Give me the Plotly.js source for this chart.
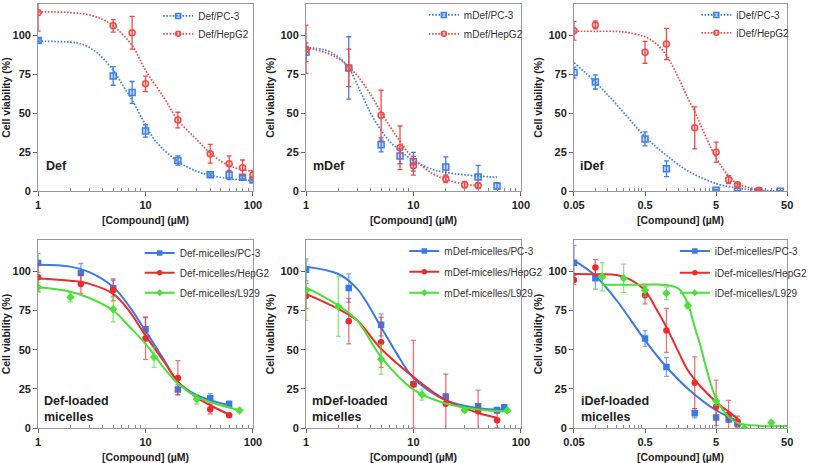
<!DOCTYPE html>
<html><head><meta charset="utf-8">
<script src="https://cdn.plot.ly/plotly-3.0.1.min.js"></script>
<style>html,body{margin:0;padding:0;background:#fff}#chart{width:813px;height:463px}</style>
</head><body><div id="chart"></div>
<script>
// ---------- Panel 1: Def ----------
const def_x = [1, 5, 7.5, 10, 20, 40, 60, 80, 100];
const def_pc3 = [96.6, 73.9, 63.3, 38.6, 19.7, 10.6, 10.4, 8.9, 7.2];
const def_pc3_err = [1, 6, 7, 4, 3, 1, 3, 1, 1.5];
const def_hep = [114.6, 106, 101.5, 68.8, 45.6, 24, 17.6, 15, 10.4];
const def_hep_err = [12, 4, 10.5, 5, 5, 6, 5, 5, 3];
const def_pc3_fit_x = [1, 2, 2.5, 3.5, 5, 6.25, 7.5, 10, 12.5, 20, 30, 40, 60, 100];
const def_pc3_fit_y = [96.2, 95.5, 94.5, 89, 77.5, 67, 58.4, 42.5, 31.8, 19.1, 12.7, 10.2, 8, 6.8];
const def_hep_fit_x = [1, 2, 3, 4, 5, 7.5, 10, 15, 20, 30, 40, 60, 100];
const def_hep_fit_y = [115, 114.5, 113, 110, 106, 93.4, 77.5, 59.4, 45.6, 33, 24.4, 16.3, 12.7];

// ---------- Panel 2: mDef ----------
const mdef_pc3_x = [1, 2.5, 5, 7.5, 10, 20, 40, 60];
const mdef_pc3 = [89, 79, 29.7, 22.6, 18.9, 15.5, 9.1, 3.4];
const mdef_pc3_err = [6, 20, 4.5, 5, 6, 6.5, 7.5, 2];
const mdef_hep_x = [1, 2.5, 5, 7.5, 10, 20, 30, 40];
const mdef_hep = [91, 79, 48.7, 27.8, 16.3, 8, 4.2, 3.6];
const mdef_hep_err = [15.5, 12, 16, 14, 6, 2.5, 2, 1.5];
const mdef_pc3_fit_x = [1, 1.5, 2, 2.5, 3.25, 4, 5, 6, 7.5, 10, 15, 20, 40, 60];
const mdef_pc3_fit_y = [92, 90.5, 86, 79, 63, 50, 39, 32, 26, 19.7, 14, 12, 9.7, 9];
const mdef_hep_fit_x = [1, 1.5, 2, 2.5, 3, 4, 5, 7.5, 10, 15, 20, 30, 40];
const mdef_hep_fit_y = [92, 89, 85, 79.5, 74, 62, 50.5, 32, 21, 11.5, 7.5, 4.5, 3.5];

// ---------- Panel 3: iDef ----------
const idef_pc3_x = [0.05, 0.1, 0.5, 1, 5, 10, 20, 40];
const idef_pc3 = [76, 70, 33.5, 14.4, 0.6, 0, 0, 0];
const idef_pc3_err = [3.5, 4.5, 4.5, 5, 0.5, 0.3, 0.3, 0.3];
const idef_hep_x = [0.05, 0.1, 0.5, 1, 2.5, 5, 7.5, 10, 20];
const idef_hep = [102.8, 106.6, 89, 94.3, 40.6, 25, 7.4, 4.2, 0.6];
const idef_hep_err = [6, 2.5, 7, 10, 13.5, 6.5, 2.5, 1, 0.5];
const idef_pc3_fit_x = [0.05, 0.1, 0.2, 0.5, 1, 2, 5, 10, 20, 40];
const idef_pc3_fit_y = [82.4, 70, 55.4, 35, 23, 13, 4.9, 2, 0.6, 0.2];
const idef_hep_fit_x = [0.05, 0.1, 0.2, 0.3, 0.5, 0.7, 1, 1.5, 2, 2.5, 3, 5, 7.5, 10, 20];
const idef_hep_fit_y = [102.5, 102.5, 102.4, 101.5, 99, 95, 87, 72, 59.7, 51, 42.7, 21.4, 9.8, 4.9, 0.8];

// ---------- Panel 4: Def-loaded micelles ----------
const defm_x = [1, 2.5, 5, 10, 20, 40, 60];
const defm_pc3 = [105.3, 99, 89.2, 63, 24.6, 19, 15.3];
const defm_pc3_err = [6, 6, 5, 7.5, 3, 3, 2];
const defm_hep = [96.2, 92, 88.1, 57.4, 32, 12.1, 8.3];
const defm_hep_err = [9, 6, 7, 13.5, 11, 3, 1];
const defm_l929_x = [1, 2, 5, 12, 30, 75];
const defm_l929 = [89.8, 83.5, 75.8, 45.3, 18.4, 11.2];
const defm_l929_err = [3, 3, 8, 6.5, 3, 1];
const defm_pc3_fit_x = [1, 2, 3, 5, 7, 10, 15, 20, 30, 40, 60];
const defm_pc3_fit_y = [104.2, 103, 99.5, 90, 78, 62, 43, 29.5, 21, 17.8, 14.6];
const defm_hep_fit_x = [1, 2, 3, 5, 7, 10, 15, 20, 30, 40, 60];
const defm_hep_fit_y = [95.5, 94, 92, 85.6, 75, 59, 42, 29.5, 19.5, 14.6, 8.7];
const defm_l929_fit_x = [1, 2, 3, 5, 7, 10, 15, 20, 30, 40, 75];
const defm_l929_fit_y = [89.8, 87, 83, 75, 65, 53.8, 38, 28.4, 20, 16.7, 11.4];

// ---------- Panel 5: mDef-loaded micelles ----------
const mdefm_pc3_x = [1, 2.5, 5, 10, 20, 40, 60, 70];
const mdefm_pc3 = [101, 89.4, 65.9, 28, 20, 14, 11.4, 13.3];
const mdefm_pc3_err = [7, 9, 7, 1.5, 2, 1, 2, 1];
const mdefm_hep_x = [1, 2.5, 5, 10, 20, 40, 60];
const mdefm_hep = [84.3, 68.2, 54.7, 28, 15.5, 10.8, 5.1];
const mdefm_hep_err = [8, 14.5, 16, 28, 19, 13.5, 5];
const mdefm_l929_x = [1, 2, 5, 12, 30, 75];
const mdefm_l929 = [87.7, 77.5, 43.9, 21.4, 11.4, 11.2];
const mdefm_l929_err = [19, 19, 9.5, 3.5, 1, 1];
const mdefm_pc3_fit_x = [1, 2, 3, 5, 7, 10, 20, 40, 70];
const mdefm_pc3_fit_y = [103, 98.3, 88.8, 64.4, 47.5, 32, 17.8, 12.7, 11.9];
const mdefm_hep_fit_x = [1, 2, 3, 5, 10, 20, 40, 60];
const mdefm_hep_fit_y = [85.6, 76, 68.6, 50.6, 32.6, 17.8, 9.7, 6.6];
const mdefm_l929_fit_x = [1, 2, 3, 5, 10, 20, 40, 75];
const mdefm_l929_fit_y = [89.8, 78.2, 68.6, 45.3, 24.6, 15.7, 11.9, 10.6];

// ---------- Panel 6: iDef-loaded micelles ----------
const idefm_x = [0.05, 0.1, 0.5, 1, 2.5, 5, 7.5, 10];
const idefm_pc3 = [105.5, 95.6, 57.2, 39, 9.5, 6.8, 5.7, 3];
const idefm_pc3_err = [11, 7, 5, 6, 3, 5, 2, 2];
const idefm_hep = [94.5, 102.5, 84.7, 62.3, 29, 13.6, 8.7, 4.2];
const idefm_hep_err = [3, 5, 5.5, 14, 16.5, 17, 9, 3.5];
const idefm_l929_x = [0.125, 0.25, 0.5, 1, 2, 5, 12.5, 30];
const idefm_l929 = [96.6, 95.6, 88, 86, 78.2, 17.4, 0, 3.6];
const idefm_l929_err = [9, 9, 4, 4, 2, 3, 0.5, 1];
const idefm_pc3_fit_x = [0.05, 0.1, 0.2, 0.5, 1, 2, 5, 10];
const idefm_pc3_fit_y = [107, 97.2, 81.4, 56, 39, 25.2, 11.4, 4.7];
const idefm_hep_fit_x = [0.05, 0.1, 0.2, 0.3, 0.5, 0.7, 1, 1.5, 2, 3, 5, 7.5, 10];
const idefm_hep_fit_y = [98.3, 98.2, 97.7, 95, 87.7, 77, 64.4, 48, 36.9, 26.7, 16.7, 10.4, 6.1];
const idefm_l929_fit_x = [0.125, 0.25, 0.5, 1, 1.5, 2, 2.5, 3, 3.6, 5, 7.5, 10, 20, 50];
const idefm_l929_fit_y = [91.5, 91.5, 91.5, 91.3, 88.8, 79.2, 64.4, 52.8, 39, 18.9, 7.2, 3.4, 1.5, 1.3];

// ---------- tick labels ----------
const yTicks = [0, 25, 50, 75, 100];
const xTicksA = [1, 10, 100];
const xTicksB = [0.05, 0.5, 5, 50];
const xMinorA = [2,3,4,5,6,7,8,9,20,30,40,50,60,70,80,90];
const xMinorB = [0.1,0.15,0.2,0.25,0.3,0.35,0.4,0.45,1,1.5,2,2.5,3,3.5,4,4.5,10,15,20,25,30,35,40,45];

// ---------- styling ----------
const FONT = 'Liberation Sans, Arial, sans-serif';
const BLUE = '#3a7ae6', RED = '#ee2b2b', GREEN = '#4be03a';
const BLUE_T = '#3f7ee8', RED_T = '#f04a47';
const BLUE_FILL = 'rgba(63,126,232,0.3)', RED_FILL = 'rgba(240,74,71,0.22)';

const traces = [];
const layout = {
  width: 813, height: 463, margin: {l: 0, r: 0, t: 0, b: 0},
  paper_bgcolor: '#fff', plot_bgcolor: '#fff',
  font: {family: FONT, color: '#222'},
  annotations: [], showlegend: true
};
let legendCount = 0;
// textX, cy: pixel position of the legend entry's text start and vertical centre
function series(n, name, color, fx, fy, px, py, perr, sym, topRow, textX, cy) {
  const xa = 'x' + (n === 1 ? '' : n), ya = 'y' + (n === 1 ? '' : n);
  const dash = topRow ? '1.6px,1.6px' : 'solid';
  const lw = topRow ? 1.7 : 2;
  const fill = sym === 'square' ? BLUE_FILL : RED_FILL;
  const mk = topRow
    ? {symbol: sym, size: 6, color: fill, line: {color: color, width: 1.5}}
    : {symbol: sym, size: 6.5, color: color, line: {width: 0}};
  traces.push({x: fx, y: fy, xaxis: xa, yaxis: ya, mode: 'lines', showlegend: false,
    line: {color: color, width: lw, dash: dash, shape: 'spline', smoothing: 1}, hoverinfo: 'skip'});
  traces.push({x: px, y: py, xaxis: xa, yaxis: ya, mode: 'markers', showlegend: false,
    marker: mk,
    error_y: {type: 'data', array: perr, visible: true, color: topRow ? color : color + 'aa', thickness: 1.3, width: 2.5}});
  legendCount++;
  const lid = legendCount === 1 ? 'legend' : 'legend' + legendCount;
  layout[lid] = {x: (textX - 29) / 813, y: 1 - cy / 463, xanchor: 'left', yanchor: 'middle',
    bgcolor: 'rgba(0,0,0,0)', borderwidth: 0, itemwidth: 30,
    font: {size: 10, color: '#333', family: FONT}};
  const lmk = Object.assign({}, mk, {size: topRow ? 5 : 5.5});
  traces.push({x: [null], y: [null], xaxis: xa, yaxis: ya, mode: 'lines+markers', name: name,
    legend: lid, line: {color: color, width: lw, dash: dash}, marker: lmk});
}

series(1, 'Def/PC-3', BLUE_T, def_pc3_fit_x, def_pc3_fit_y, def_x, def_pc3, def_pc3_err, 'square', true, 191, 14);
series(1, 'Def/HepG2', RED_T, def_hep_fit_x, def_hep_fit_y, def_x, def_hep, def_hep_err, 'circle', true, 191, 32);
series(2, 'mDef/PC-3', BLUE_T, mdef_pc3_fit_x, mdef_pc3_fit_y, mdef_pc3_x, mdef_pc3, mdef_pc3_err, 'square', true, 463, 13);
series(2, 'mDef/HepG2', RED_T, mdef_hep_fit_x, mdef_hep_fit_y, mdef_hep_x, mdef_hep, mdef_hep_err, 'circle', true, 463, 32);
series(3, 'iDef/PC-3', BLUE_T, idef_pc3_fit_x, idef_pc3_fit_y, idef_pc3_x, idef_pc3, idef_pc3_err, 'square', true, 742, 13);
series(3, 'iDef/HepG2', RED_T, idef_hep_fit_x, idef_hep_fit_y, idef_hep_x, idef_hep, idef_hep_err, 'circle', true, 742, 31);

series(4, 'Def-micelles/PC-3', BLUE, defm_pc3_fit_x, defm_pc3_fit_y, defm_x, defm_pc3, defm_pc3_err, 'square', false, 172, 252);
series(4, 'Def-micelles/HepG2', RED, defm_hep_fit_x, defm_hep_fit_y, defm_x, defm_hep, defm_hep_err, 'circle', false, 172, 272);
series(4, 'Def-micelles/L929', GREEN, defm_l929_fit_x, defm_l929_fit_y, defm_l929_x, defm_l929, defm_l929_err, 'diamond', false, 172, 292);
series(5, 'mDef-micelles/PC-3', BLUE, mdefm_pc3_fit_x, mdefm_pc3_fit_y, mdefm_pc3_x, mdefm_pc3, mdefm_pc3_err, 'square', false, 443, 250);
series(5, 'mDef-micelles/HepG2', RED, mdefm_hep_fit_x, mdefm_hep_fit_y, mdefm_hep_x, mdefm_hep, mdefm_hep_err, 'circle', false, 443, 271);
series(5, 'mDef-micelles/L929', GREEN, mdefm_l929_fit_x, mdefm_l929_fit_y, mdefm_l929_x, mdefm_l929, mdefm_l929_err, 'diamond', false, 443, 292);
series(6, 'iDef-micelles/PC-3', BLUE, idefm_pc3_fit_x, idefm_pc3_fit_y, idefm_x, idefm_pc3, idefm_pc3_err, 'square', false, 720, 250);
series(6, 'iDef-micelles/HepG2', RED, idefm_hep_fit_x, idefm_hep_fit_y, idefm_x, idefm_hep, idefm_hep_err, 'circle', false, 720, 272);
series(6, 'iDef-micelles/L929', GREEN, idefm_l929_fit_x, idefm_l929_fit_y, idefm_l929_x, idefm_l929, idefm_l929_err, 'diamond', false, 720, 292);

const colDom = [[0.048, 0.3186], [0.3854, 0.656], [0.7229, 0.9914]];
const rowDom = [[0.5896, 0.9957], [0.0756, 0.4838]];

function axes(n, col, row, tickvals, minor, range) {
  const sx = n === 1 ? '' : String(n);
  layout['xaxis' + sx] = {
    type: 'log', domain: colDom[col], anchor: 'y' + sx, range: range,
    tickmode: 'array', tickvals: tickvals, ticktext: tickvals.map(String),
    ticks: 'outside', ticklen: 4, tickcolor: '#666', tickwidth: 1,
    minor: {tickmode: 'array', tickvals: minor, ticks: 'inside', ticklen: 3, tickcolor: '#888', tickwidth: 1},
    showline: true, linecolor: '#999', linewidth: 1, mirror: true, showgrid: false, zeroline: false,
    tickfont: {size: 11, weight: 'bold', color: '#222', family: FONT},
    title: {text: '[Compound] (µM)', font: {size: 10.5, weight: 'bold', family: FONT, color: '#222'}, standoff: 6},
    automargin: false
  };
  layout['yaxis' + sx] = {
    domain: rowDom[row], anchor: 'x' + sx, range: [0, 120],
    tickmode: 'array', tickvals: yTicks, ticktext: yTicks.map(String),
    ticks: 'outside', ticklen: 4, tickcolor: '#666', tickwidth: 1,
    showline: true, linecolor: '#999', linewidth: 1, mirror: true, showgrid: false, zeroline: false,
    tickfont: {size: 11, weight: 'bold', color: '#222', family: FONT},
    title: {text: 'Cell viability (%)', font: {size: 10.5, weight: 'bold', family: FONT, color: '#222'}, standoff: 3},
    automargin: false
  };
}
const rA = [0, 2], rB = [Math.log10(0.05), Math.log10(50)];
axes(1, 0, 0, xTicksA, xMinorA, rA);
axes(2, 1, 0, xTicksA, xMinorA, rA);
axes(3, 2, 0, xTicksB, xMinorB, rB);
axes(4, 0, 1, xTicksA, xMinorA, rA);
axes(5, 1, 1, xTicksA, xMinorA, rA);
axes(6, 2, 1, xTicksB, xMinorB, rB);

function label(px, py, text) {
  layout.annotations.push({xref: 'paper', yref: 'paper', x: px / 813, y: 1 - py / 463,
    xanchor: 'left', yanchor: 'middle', align: 'left', showarrow: false, text: text,
    font: {size: 12.5, weight: 'bold', family: FONT, color: '#222'}});
}
label(45, 165, 'Def');
label(318, 165, 'mDef');
label(592, 165, 'iDef');
label(43, 409, 'Def-loaded<br>micelles');
label(317, 409, 'mDef-loaded<br>micelles');
label(593, 409, 'iDef-loaded<br>micelles');

Plotly.newPlot('chart', traces, layout, {staticPlot: true, displayModeBar: false});
</script></body></html>
